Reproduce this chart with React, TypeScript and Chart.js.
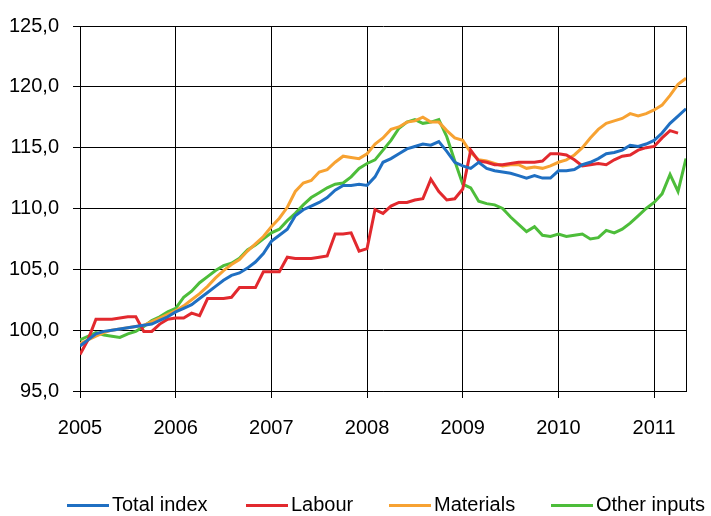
import React, { useEffect, useRef } from "react";
import { Chart, registerables } from "chart.js";

Chart.register(...registerables);

const yearLabels = ["2005", "2006", "2007", "2008", "2009", "2010", "2011"];
const seriesNames = ["Total index", "Labour", "Materials", "Other inputs"];
const seriesColors = ["#1F6FC2", "#E2292E", "#F7A232", "#4DBD3A"];

// Monthly values, Jan 2005 .. May 2011
const totalIndex = [
  98.7, 99.2, 99.7, 99.9, 100.0, 100.1, 100.2, 100.3, 100.4, 100.5, 100.8, 101.1,
  101.5, 101.8, 102.1, 102.6, 103.1, 103.6, 104.1, 104.5, 104.7, 105.1, 105.6, 106.3,
  107.3, 107.8, 108.3, 109.4, 109.9, 110.2, 110.5, 110.9, 111.5, 111.9, 111.9, 112.0,
  111.9, 112.6, 113.8, 114.1, 114.5, 114.9, 115.1, 115.3, 115.2, 115.5, 114.7, 113.8,
  113.5, 113.3, 113.8, 113.3, 113.1, 113.0, 112.9, 112.7, 112.5, 112.7, 112.5, 112.5,
  113.1, 113.1, 113.2, 113.6, 113.8, 114.1, 114.5, 114.6, 114.8, 115.2, 115.1, 115.3,
  115.6, 116.2, 117.0, 117.6, 118.2,
];

const labour = [
  98.0, 99.2, 100.9, 100.9, 100.9, 101.0, 101.1, 101.1, 99.9, 99.9, 100.5, 100.9,
  101.0, 101.0, 101.4, 101.2, 102.6, 102.6, 102.6, 102.7, 103.5, 103.5, 103.5, 104.8,
  104.8, 104.8, 106.0, 105.9, 105.9, 105.9, 106.0, 106.1, 107.9, 107.9, 108.0, 106.5,
  106.7, 109.9, 109.6, 110.2, 110.5, 110.5, 110.7, 110.8, 112.4, 111.4, 110.7, 110.8,
  111.6, 114.8, 113.9, 113.8, 113.6, 113.6, 113.7, 113.8, 113.8, 113.8, 113.9, 114.5,
  114.5, 114.4, 114.0, 113.5, 113.6, 113.7, 113.6, 114.0, 114.3, 114.4, 114.8, 115.0,
  115.1, 115.8, 116.4, 116.2, null,
];

const materials = [
  98.9, 99.2, 99.5, 99.8, 100.0, 100.1, 100.2, 100.3, 100.4, 100.7, 101.0, 101.3,
  101.6, 102.0, 102.5, 103.0, 103.6, 104.3, 104.9, 105.4, 105.8, 106.5, 107.1, 107.7,
  108.5, 109.2, 110.1, 111.4, 112.1, 112.3, 113.0, 113.2, 113.8, 114.3, 114.2, 114.1,
  114.5, 115.3, 115.8, 116.5, 116.7, 117.1, 117.2, 117.5, 117.1, 117.1, 116.4, 115.8,
  115.6, 114.6, 114.0, 113.9, 113.7, 113.5, 113.6, 113.6, 113.3, 113.4, 113.3, 113.5,
  113.8, 114.0, 114.4, 115.0, 115.8, 116.5, 117.0, 117.2, 117.4, 117.8, 117.6, 117.8,
  118.1, 118.5, 119.3, 120.2, 120.7,
];

const otherInputs = [
  99.2, 99.5, 99.8, 99.6, 99.5, 99.4, 99.7, 99.9, 100.3, 100.8, 101.1, 101.5,
  101.8, 102.7, 103.2, 103.9, 104.4, 104.9, 105.3, 105.5, 105.9, 106.6, 107.0, 107.5,
  108.0, 108.3, 109.0, 109.6, 110.3, 110.9, 111.3, 111.7, 112.0, 112.1, 112.6, 113.3,
  113.7, 114.0, 114.8, 115.6, 116.6, 117.1, 117.3, 117.0, 117.1, 117.3, 115.9, 113.9,
  112.0, 111.7, 110.6, 110.4, 110.3, 110.0, 109.3, 108.7, 108.1, 108.5, 107.8, 107.7,
  107.9, 107.7, 107.8, 107.9, 107.5, 107.6, 108.2, 108.0, 108.3, 108.8, 109.4, 110.0,
  110.5, 111.2, 112.8, 111.4, 114.1,
];

const yTicks = [95, 100, 105, 110, 115, 120, 125];

const FONT = "'Liberation Sans', Arial, sans-serif";

const toPoints = (arr: (number | null)[]) => arr.map((v, i) => ({ x: i, y: v }));

export default function App() {
  const ref = useRef<HTMLCanvasElement | null>(null);

  useEffect(() => {
    if (!ref.current) return;
    const all = [totalIndex, labour, materials, otherInputs];

    const rightBorder = {
      id: "rightBorder",
      beforeDatasetsDraw(chart: any) {
        const { ctx, chartArea } = chart;
        ctx.save();
        ctx.strokeStyle = "#000";
        ctx.lineWidth = 1;
        const x = Math.round(chartArea.right) + 0.5;
        ctx.beginPath();
        ctx.moveTo(x, chartArea.top);
        ctx.lineTo(x, chartArea.bottom);
        ctx.stroke();
        ctx.restore();
      },
    };

    const legendStarts = [67, 246, 389, 551];
    const customLegend = {
      id: "customLegend",
      afterDraw(chart: any) {
        const { ctx } = chart;
        ctx.save();
        ctx.font = `20px ${FONT}`;
        ctx.textBaseline = "middle";
        ctx.textAlign = "left";
        const y = 505.5;
        seriesNames.forEach((name, i) => {
          const x0 = legendStarts[i];
          ctx.strokeStyle = seriesColors[i];
          ctx.lineWidth = 3;
          ctx.beginPath();
          ctx.moveTo(x0, y);
          ctx.lineTo(x0 + 42, y);
          ctx.stroke();
          ctx.fillStyle = "#000";
          ctx.fillText(name, x0 + 45, y);
        });
        ctx.restore();
      },
    };

    const chart = new Chart(ref.current, {
      type: "line",
      data: {
        datasets: all.map((arr, i) => ({
          label: seriesNames[i],
          data: toPoints(arr),
          borderColor: seriesColors[i],
          backgroundColor: seriesColors[i],
          borderWidth: 3,
          pointRadius: 0,
          tension: 0,
          fill: false,
          spanGaps: false,
        })),
      },
      options: {
        animation: false,
        responsive: true,
        maintainAspectRatio: false,
        layout: { padding: { top: 21, right: 25, left: 0, bottom: 0 } },
        plugins: { legend: { display: false }, tooltip: { enabled: false } },
        scales: {
          x: {
            type: "linear",
            min: 0,
            max: 76,
            afterBuildTicks: (scale: any) => {
              scale.ticks = yearLabels.map((_, i) => ({ value: i * 12 }));
            },
            afterFit: (scale: any) => {
              scale.height = 125;
            },
            ticks: {
              color: "#000",
              font: { family: FONT, size: 20 },
              padding: 18,
              maxRotation: 0,
              autoSkip: false,
              callback: (v: any) => yearLabels[Math.round(Number(v) / 12)] ?? "",
            },
            grid: { color: "#000", lineWidth: 1, tickLength: 7, drawTicks: true },
            border: { color: "#000", width: 1 },
          },
          y: {
            min: 95,
            max: 125,
            afterBuildTicks: (scale: any) => {
              scale.ticks = yTicks.map((v) => ({ value: v }));
            },
            afterFit: (scale: any) => {
              scale.width = 80;
            },
            ticks: {
              color: "#000",
              font: { family: FONT, size: 20 },
              padding: 14,
              callback: (v: any) => Number(v).toFixed(1).replace(".", ","),
            },
            grid: { color: "#000", lineWidth: 1, tickLength: 7, drawTicks: true },
            border: { color: "#000", width: 1 },
          },
        },
      },
      plugins: [rightBorder, customLegend],
    } as any);

    return () => chart.destroy();
  }, []);

  return (
    <div style={{ position: "absolute", left: 0, top: 0, width: 711, height: 516, background: "#fff" }}>
      <canvas ref={ref} />
    </div>
  );
}
